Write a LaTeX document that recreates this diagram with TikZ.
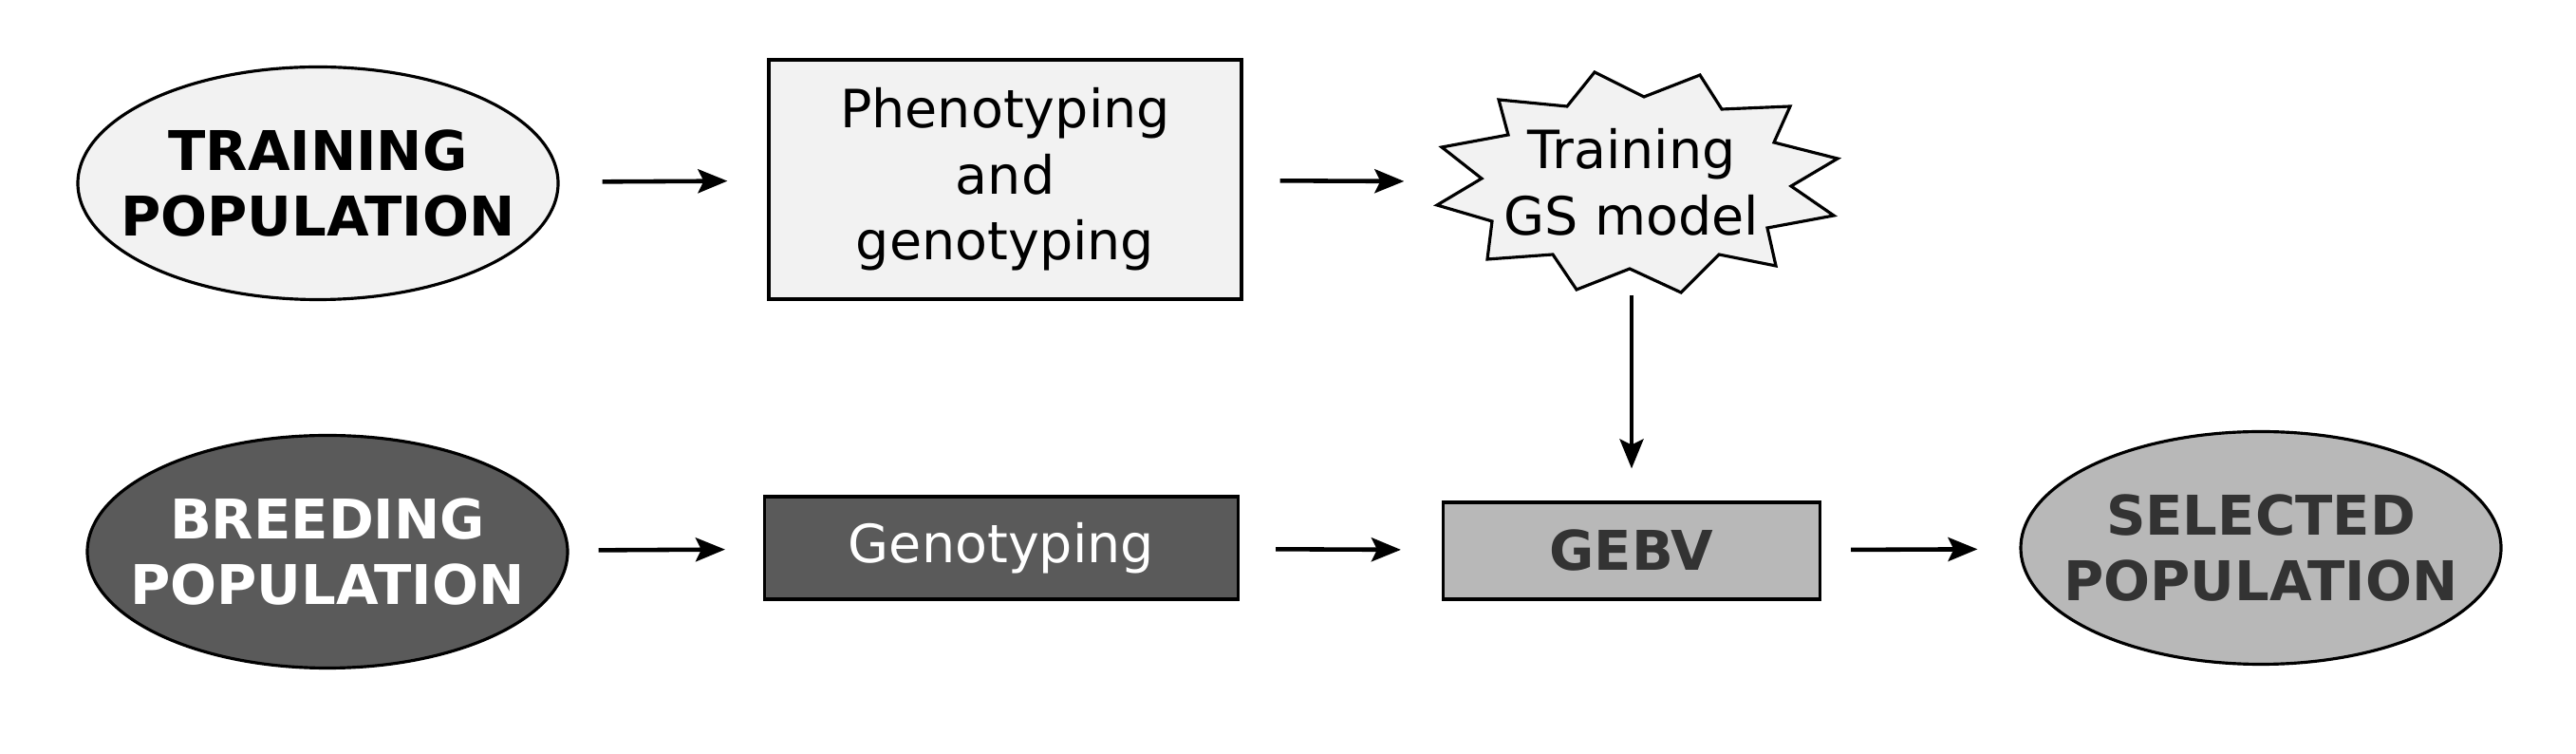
\documentclass[tikz,border=0pt]{standalone}
\usepackage{fontspec}
\setmainfont{DejaVu Sans}
\usetikzlibrary{shapes.geometric,arrows.meta}
\definecolor{lightgr}{HTML}{F2F2F2}
\definecolor{darkgr}{HTML}{5A5A5A}
\definecolor{midgr}{HTML}{B8B8B8}
\definecolor{textgr}{HTML}{333333}
\newcommand{\plain}{\fontsize{15.8}{19.8}\selectfont}
\newcommand{\heavy}{\fontsize{16.4}{19.9}\selectfont\bfseries}

\begin{document}
\begin{tikzpicture}[
    pop/.style={draw, ellipse, line width=0.9pt, inner xsep=-0.4cm, inner ysep=0pt,
        minimum width=5.06cm, minimum height=2.45cm, align=center, font=\heavy},
    stage/.style={draw, rectangle, line width=0.9pt, inner sep=0pt,
        align=center, font=\plain},
    arrow/.style={-{Stealth[length=3.1mm, width=2.5mm, inset=0.6mm]}, line width=1.3pt}]
    \useasboundingbox (0, 0) rectangle (27.14, 7.94);

    % star outline behind the model text
    \begin{scope}[shift={(17.19, 6.02)}]
        \draw[fill=lightgr, line width=0.9pt] (-1.40, 0.87) -- (-0.68, 0.80) -- (-0.39, 1.16)
            -- (0.13, 0.90) -- (0.72, 1.13) -- (0.95, 0.77) -- (1.67, 0.80) -- (1.50, 0.42)
            -- (2.17, 0.25) -- (1.68, -0.04) -- (2.13, -0.35) -- (1.43, -0.48) -- (1.52, -0.88)
            -- (0.92, -0.76) -- (0.52, -1.16) -- (-0.02, -0.91) -- (-0.58, -1.13) -- (-0.83, -0.76)
            -- (-1.52, -0.81) -- (-1.47, -0.41) -- (-2.05, -0.24) -- (-1.58, 0.04) -- (-2.00, 0.37)
            -- (-1.30, 0.50) -- cycle;
    \end{scope}

    \node (train) [pop, fill=lightgr] at (3.35, 6.01) {TRAINING\\POPULATION};
    \node (pheno) [stage, fill=lightgr, minimum width=4.98cm, minimum height=2.52cm] at (10.59, 6.05)
        {Phenotyping\\and\\genotyping};
    \node (model) [align=center, font=\plain, minimum width=4.2cm, minimum height=2.3cm, inner sep=0pt]
        at (17.19, 6.02) {Training\\GS model};

    \node (breed) [pop, fill=darkgr, text=white] at (3.45, 2.13) {BREEDING\\POPULATION};
    \node (geno) [stage, fill=darkgr, text=white, minimum width=4.99cm, minimum height=1.08cm]
        at (10.55, 2.17) {Genotyping};
    \node (gebv) [stage, fill=midgr, text=textgr, font=\heavy, minimum width=3.97cm, minimum height=1.02cm]
        at (17.19, 2.14) {GEBV};
    \node (sel) [pop, fill=midgr, text=textgr] at (23.82, 2.17) {SELECTED\\POPULATION};

    \draw[arrow, shorten <=0.45cm, shorten >=0.42cm] (train) -- (pheno);
    \draw[arrow, shorten <=0.39cm, shorten >=0.29cm] (pheno) -- (model);
    \draw[arrow, shorten <=0.03cm, shorten >=0.34cm] (model) -- (gebv);
    \draw[arrow, shorten <=0.31cm, shorten >=0.40cm] (breed) -- (geno);
    \draw[arrow, shorten <=0.38cm, shorten >=0.43cm] (geno) -- (gebv);
    \draw[arrow, shorten <=0.31cm, shorten >=0.44cm] (gebv) -- (sel);
\end{tikzpicture}
\end{document}
